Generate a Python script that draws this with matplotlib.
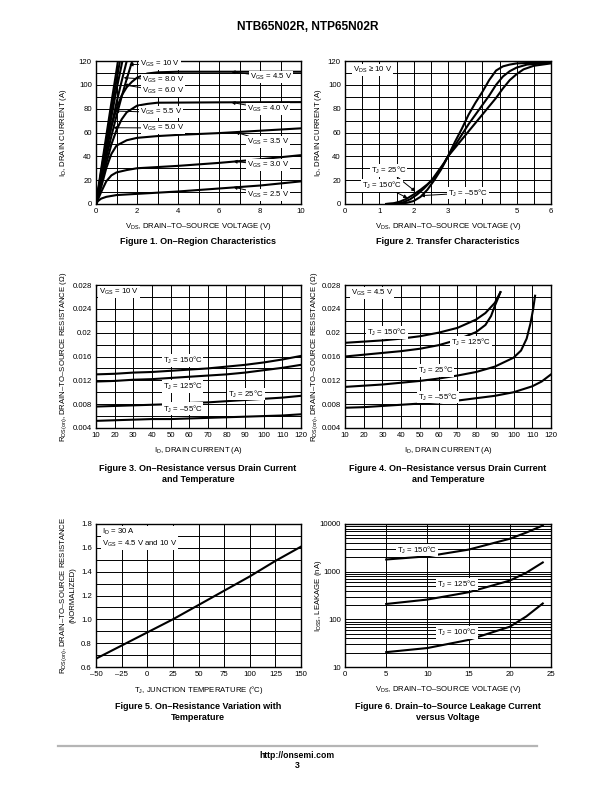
import numpy as np
import matplotlib
matplotlib.use('Agg')
import matplotlib.pyplot as plt
from matplotlib.lines import Line2D

plt.rcParams['font.family'] = ['Liberation Sans', 'DejaVu Sans']
plt.rcParams['mathtext.fontset'] = 'custom'
plt.rcParams['mathtext.rm'] = 'Liberation Sans'
plt.rcParams['mathtext.it'] = 'Liberation Sans:italic'
plt.rcParams['mathtext.default'] = 'regular'

# ---------------- data ----------------
# Figure 1: ID vs VDS for several VGS
f1_vgs10_v = [0, 0.25, 0.5, 0.75, 1.0, 1.08]
f1_vgs10_i = [0, 29, 57, 85, 112, 121]
f1_vgs8_v = [0, 0.25, 0.5, 0.75, 1.0, 1.18]
f1_vgs8_i = [0, 27, 53, 79, 104, 121]
f1_vgs6_v = [0, 0.25, 0.5, 0.75, 1.0, 1.3]
f1_vgs6_i = [0, 25, 49, 73, 96, 121]
f1_vgs55_v = [0, 0.25, 0.5, 0.75, 1.0, 1.25, 1.5, 1.55]
f1_vgs55_i = [0, 22, 44, 65, 85, 103, 120, 123]
f1_vgs5_v = [0, 0.25, 0.5, 0.75, 1.0, 1.25, 1.5, 1.75, 1.8]
f1_vgs5_i = [0, 20, 39, 57, 74, 90, 105, 119, 122]
f1_vgs45_v = [0, 0.25, 0.5, 0.75, 1.0, 1.25, 1.5, 1.75, 2.0, 2.5, 3.0, 4, 6, 8, 10]
f1_vgs45_i = [0, 24, 46, 65, 80, 91, 98, 102.5, 106, 109.5, 110.5, 111, 111, 111, 111]
f1_vgs4_v = [0, 0.25, 0.5, 0.75, 1.0, 1.25, 1.5, 2.0, 2.5, 3.0, 6, 10]
f1_vgs4_i = [0, 17, 34, 50, 62, 71, 77, 82.5, 84, 85, 85.3, 85.5]
f1_vgs35_v = [0, 0.25, 0.5, 0.75, 1.0, 1.5, 2.0, 3.0, 4.0, 6.0, 8.0, 10]
f1_vgs35_i = [0, 14, 30, 42, 49, 53.5, 55.5, 57, 58, 59.5, 61.5, 63.5]
f1_vgs3_v = [0, 0.25, 0.5, 0.75, 1.0, 1.5, 2.0, 4.0, 6.0, 8.0, 10]
f1_vgs3_i = [0, 10, 19, 24, 26.5, 28.5, 30, 32, 34.5, 37.5, 41]
f1_vgs25_v = [0, 0.1, 0.25, 0.5, 1.0, 2.0, 4.0, 6.0, 8.0, 10]
f1_vgs25_i = [0, 2.5, 4.5, 6, 7.5, 8.5, 10.5, 13, 15.5, 19]

# Figure 2: transfer characteristics
f2_t150_v = [1.2, 1.4, 1.6, 1.8, 2.0, 2.2, 2.4, 2.6, 2.8, 3.0, 3.2, 3.4, 3.6, 3.8,
             4.0, 4.2, 4.4, 4.6, 4.8, 5.0, 5.2, 5.5, 6.0]
f2_t150_i = [0, 0.5, 2, 4.5, 8, 12, 16.5, 22, 30, 40, 47, 54, 61, 68,
             75, 82, 89, 97, 104, 109, 113, 116, 118]
f2_t25_v = [1.2, 1.5, 1.7, 1.9, 2.1, 2.3, 2.5, 2.7, 2.9, 3.0, 3.2, 3.4, 3.6, 3.8,
            4.0, 4.2, 4.4, 4.6, 4.8, 5.0, 5.3, 6.0]
f2_t25_i = [0, 0.3, 1.5, 4, 8, 13, 19, 27, 35, 40, 49, 58, 67, 75,
            83, 91, 100, 107, 111.5, 114.5, 117, 118.5]
f2_tm55_v = [1.2, 1.6, 1.8, 2.0, 2.2, 2.4, 2.6, 2.8, 3.0, 3.2, 3.4, 3.6, 3.8,
             4.0, 4.2, 4.4, 4.6, 4.8, 5.0, 5.5, 6.0]
f2_tm55_i = [0, 0.3, 1, 2.5, 6, 12, 20, 29, 40, 52, 63, 75, 85,
             94, 104, 112, 115.5, 117, 118, 118.5, 119]

# Figure 3: RDS(on) vs ID, VGS = 10 V
f3_id = [10, 20, 30, 40, 50, 60, 70, 80, 90, 100, 110, 120]
f3_t150 = [0.0130, 0.0131, 0.0133, 0.0134, 0.0136, 0.0138, 0.0140, 0.0143, 0.0146, 0.0150, 0.0155, 0.0161]
f3_t125 = [0.0118, 0.0119, 0.0121, 0.0122, 0.0124, 0.0126, 0.0128, 0.0130, 0.0133, 0.0137, 0.0141, 0.0146]
f3_t25 = [0.0076, 0.0077, 0.0078, 0.0079, 0.0080, 0.0082, 0.0083, 0.0085, 0.0087, 0.0089, 0.0091, 0.0094]
f3_tm55 = [0.0052, 0.0053, 0.0054, 0.0055, 0.0055, 0.0056, 0.0057, 0.0058, 0.0059, 0.0060, 0.0061, 0.0063]

# Figure 4: RDS(on) vs ID, VGS = 4.5 V
f4_t150_id = [10, 20, 30, 40, 50, 60, 70, 80, 85, 90, 93]
f4_t150 = [0.0183, 0.0185, 0.0187, 0.0190, 0.0194, 0.0200, 0.0208, 0.0222, 0.0233, 0.0250, 0.0268]
f4_t125_id = [10, 20, 30, 40, 50, 60, 70, 80, 85, 88, 90, 92, 93]
f4_t125 = [0.0160, 0.0163, 0.0166, 0.0169, 0.0173, 0.0179, 0.0188, 0.0201, 0.0213, 0.0228, 0.0245, 0.0260, 0.0268]
f4_t25_id = [10, 20, 30, 40, 50, 60, 70, 80, 90, 100, 104, 107, 109, 110.5, 111.5]
f4_t25 = [0.0109, 0.0111, 0.0113, 0.0116, 0.0119, 0.0123, 0.0128, 0.0134, 0.0143, 0.0158, 0.0170,
          0.0190, 0.0215, 0.0240, 0.0262]
f4_tm55_id = [10, 20, 30, 40, 50, 60, 70, 80, 90, 100, 110, 115, 120]
f4_tm55 = [0.0074, 0.0075, 0.0077, 0.0079, 0.0081, 0.0083, 0.0086, 0.0090, 0.0094, 0.0100, 0.0110, 0.0118, 0.0130]

# Figure 5: normalized RDS(on) vs TJ
f5_tj = [-50, -25, 0, 25, 50, 75, 100, 125, 150]
f5_rn = [0.67, 0.78, 0.89, 1.0, 1.12, 1.24, 1.36, 1.49, 1.61]

# Figure 6: IDSS vs VDS
f6_vds = [5, 10, 15, 20, 22, 24]
f6_t150 = [1800, 2100, 2900, 4900, 6600, 9300]
f6_t125 = [210, 260, 370, 650, 950, 1560]
f6_t100 = [20.5, 25, 37, 70, 115, 215]

# tick labels
f1_xticks = [0, 2, 4, 6, 8, 10]
f1_yticks = [0, 20, 40, 60, 80, 100, 120]
f2_xticks = [0, 1, 2, 3, 5, 6]
f2_yticks = [0, 20, 40, 60, 80, 100, 120]
f34_xticks = [10, 20, 30, 40, 50, 60, 70, 80, 90, 100, 110, 120]
f34_yticks = [0.004, 0.008, 0.012, 0.016, 0.02, 0.024, 0.028]
f34_ylabels = ['0.004', '0.008', '0.012', '0.016', '0.02', '0.024', '0.028']
f5_xticks = [-50, -25, 0, 25, 50, 75, 100, 125, 150]
f5_xlabels = ['\u201350', '\u201325', '0', '25', '50', '75', '100', '125', '150']
f5_yticks = [0.6, 0.8, 1.0, 1.2, 1.4, 1.6, 1.8]
f5_ylabels = ['0.6', '0.8', '1.0', '1.2', '1.4', '1.6', '1.8']
f6_xticks = [0, 5, 10, 15, 20, 25]
f6_yticks = [10, 100, 1000, 10000]

W, H = 612, 792
fig = plt.figure(figsize=(W / 100, H / 100), dpi=100)
fs = 5.6
lw_data = 1.5


def px_axes(x0, y0, x1, y1):
    return fig.add_axes([x0 / W, 1 - y1 / H, (x1 - x0) / W, (y1 - y0) / H])


def style(ax, xgrid, ygrid, xt, yt, xl=None, yl=None, log=False):
    ax.set_xticks(xgrid, minor=True)
    if not log:
        ax.set_yticks(ygrid, minor=True)
    ax.set_xticks(xt)
    ax.set_yticks(yt)
    if xl is not None:
        ax.set_xticklabels(xl)
    else:
        ax.set_xticklabels([('%g' % v) for v in xt])
    if yl is not None:
        ax.set_yticklabels(yl)
    elif not log:
        ax.set_yticklabels([('%g' % v) for v in yt])
    ax.grid(True, which='both', color='black', lw=0.7)
    ax.tick_params(which='both', length=0, labelsize=fs, pad=3)
    for s in ax.spines.values():
        s.set_linewidth(1.0)
    ax.set_axisbelow(True)


def label(ax, x, y, txt, xy=None, ha='left', va='center'):
    box = dict(fc='white', ec='none', pad=0.6)
    if xy is None:
        ax.text(x, y, txt, fontsize=fs, ha=ha, va=va, bbox=box, zorder=5)
    else:
        ax.annotate(txt, xy=xy, xytext=(x, y), fontsize=fs, ha=ha, va=va, bbox=box, zorder=5,
                    arrowprops=dict(arrowstyle='-|>', color='black', lw=0.7,
                                    mutation_scale=5, shrinkA=0, shrinkB=0))


def caption(xc, y, txt):
    fig.text(xc / W, 1 - y / H, txt, fontsize=6.5, fontweight='bold', ha='center', va='center',
             linespacing=1.15)


fig.text(308 / W, 1 - 27 / H, 'NTB65N02R, NTP65N02R', fontsize=8.6, fontweight='bold',
         ha='center', va='center')

# ---------------- Figure 1 ----------------
ax1 = px_axes(96, 61, 301, 204)
for v, i in [(f1_vgs10_v, f1_vgs10_i), (f1_vgs8_v, f1_vgs8_i), (f1_vgs6_v, f1_vgs6_i),
             (f1_vgs55_v, f1_vgs55_i), (f1_vgs5_v, f1_vgs5_i), (f1_vgs45_v, f1_vgs45_i),
             (f1_vgs4_v, f1_vgs4_i), (f1_vgs35_v, f1_vgs35_i), (f1_vgs3_v, f1_vgs3_i),
             (f1_vgs25_v, f1_vgs25_i)]:
    ax1.plot(v, i, color='black', lw=lw_data, solid_capstyle='butt')
ax1.set_xlim(0, 10)
ax1.set_ylim(0, 120)
style(ax1, np.arange(0, 11, 1), np.arange(0, 121, 10), f1_xticks, f1_yticks)
label(ax1, 2.15, 117.5, 'V$_{GS}$ = 10 V', xy=(1.62, 117))
label(ax1, 2.24, 103.8, 'V$_{GS}$ = 8.0 V', xy=(1.35, 106))
label(ax1, 2.24, 94.6, 'V$_{GS}$ = 6.0 V', xy=(1.35, 100))
label(ax1, 2.15, 76.9, 'V$_{GS}$ = 5.5 V', xy=(0.92, 78))
label(ax1, 2.24, 63.8, 'V$_{GS}$ = 5.0 V', xy=(0.85, 64))
label(ax1, 7.5, 106.6, 'V$_{GS}$ = 4.5 V', xy=(6.6, 111))
label(ax1, 7.37, 79.7, 'V$_{GS}$ = 4.0 V', xy=(6.6, 85.3))
label(ax1, 7.37, 52, 'V$_{GS}$ = 3.5 V', xy=(6.8, 60.3))
label(ax1, 7.37, 32.7, 'V$_{GS}$ = 3.0 V', xy=(6.7, 35.8))
label(ax1, 7.37, 7.5, 'V$_{GS}$ = 2.5 V', xy=(6.7, 14.2))
ax1.set_ylabel('I$_D$, DRAIN CURRENT (A)', fontsize=fs)
ax1.yaxis.set_label_coords(-0.13, 0.5)
ax1.set_xlabel('V$_{DS}$, DRAIN\u2013TO\u2013SOURCE VOLTAGE (V)', fontsize=fs, labelpad=4)
caption(198, 241, 'Figure 1. On\u2013Region Characteristics')

# ---------------- Figure 2 ----------------
ax2 = px_axes(345, 61, 551, 204)
ax2.plot(f2_t150_v, f2_t150_i, color='black', lw=lw_data)
ax2.plot(f2_t25_v, f2_t25_i, color='black', lw=lw_data)
ax2.plot(f2_tm55_v, f2_tm55_i, color='black', lw=lw_data)
ax2.set_xlim(0, 6)
ax2.set_ylim(0, 120)
style(ax2, np.arange(0, 6.01, 0.5), np.arange(0, 121, 10), f2_xticks, f2_yticks)
label(ax2, 0.23, 112.5, 'V$_{DS}$ \u2265 10 V')
label(ax2, 0.76, 28.3, 'T$_J$ = 25\u00b0C', xy=(2.05, 10.5))
label(ax2, 0.5, 15.8, 'T$_J$ = 150\u00b0C', xy=(1.82, 5))
label(ax2, 3.0, 9.2, 'T$_J$ = \u201355\u00b0C', xy=(2.2, 7))
ax2.set_ylabel('I$_D$, DRAIN CURRENT (A)', fontsize=fs)
ax2.yaxis.set_label_coords(-0.10, 0.5)
ax2.set_xlabel('V$_{DS}$, DRAIN\u2013TO\u2013SOURCE VOLTAGE (V)', fontsize=fs, labelpad=4)
caption(448, 241, 'Figure 2. Transfer Characteristics')

# ---------------- Figure 3 ----------------
ax3 = px_axes(96, 285, 301, 428)
for r in [f3_t150, f3_t125, f3_t25, f3_tm55]:
    ax3.plot(f3_id, r, color='black', lw=lw_data)
ax3.set_xlim(10, 120)
ax3.set_ylim(0.004, 0.028)
style(ax3, np.arange(10, 121, 10), np.arange(0.004, 0.0281, 0.002), f34_xticks, f34_yticks,
      yl=f34_ylabels)
label(ax3, 11.8, 0.0268, 'V$_{GS}$ = 10 V')
label(ax3, 45.8, 0.0154, 'T$_J$ = 150\u00b0C')
label(ax3, 45.8, 0.0109, 'T$_J$ = 125\u00b0C')
label(ax3, 81, 0.0097, 'T$_J$ = 25\u00b0C')
label(ax3, 45.8, 0.0072, 'T$_J$ = \u201355\u00b0C')
ax3.set_ylabel('R$_{DS(on)}$, DRAIN\u2013TO\u2013SOURCE RESISTANCE (\u03a9)', fontsize=fs)
ax3.yaxis.set_label_coords(-0.13, 0.5)
ax3.set_xlabel('I$_D$, DRAIN CURRENT (A)', fontsize=fs, labelpad=4)
caption(198, 474, 'Figure 3. On\u2013Resistance versus Drain Current\nand Temperature')

# ---------------- Figure 4 ----------------
ax4 = px_axes(345, 285, 551, 428)
ax4.plot(f4_t150_id, f4_t150, color='black', lw=lw_data)
ax4.plot(f4_t125_id, f4_t125, color='black', lw=lw_data)
ax4.plot(f4_t25_id, f4_t25, color='black', lw=lw_data)
ax4.plot(f4_tm55_id, f4_tm55, color='black', lw=lw_data)
ax4.set_xlim(10, 120)
ax4.set_ylim(0.004, 0.028)
style(ax4, np.arange(10, 121, 10), np.arange(0.004, 0.0281, 0.002), f34_xticks, f34_yticks,
      yl=f34_ylabels)
label(ax4, 13, 0.0266, 'V$_{GS}$ = 4.5 V')
label(ax4, 21.7, 0.0201, 'T$_J$ = 150\u00b0C')
label(ax4, 66.6, 0.0183, 'T$_J$ = 125\u00b0C')
label(ax4, 49, 0.0137, 'T$_J$ = 25\u00b0C')
label(ax4, 49, 0.0092, 'T$_J$ = \u201355\u00b0C')
ax4.set_ylabel('R$_{DS(on)}$, DRAIN\u2013TO\u2013SOURCE RESISTANCE (\u03a9)', fontsize=fs)
ax4.yaxis.set_label_coords(-0.12, 0.5)
ax4.set_xlabel('I$_D$, DRAIN CURRENT (A)', fontsize=fs, labelpad=4)
caption(448, 474, 'Figure 4. On\u2013Resistance versus Drain Current\nand Temperature')

# ---------------- Figure 5 ----------------
ax5 = px_axes(96, 524, 301, 667)
ax5.plot(f5_tj, f5_rn, color='black', lw=lw_data)
ax5.set_xlim(-50, 150)
ax5.set_ylim(0.6, 1.8)
style(ax5, np.arange(-50, 151, 25), np.arange(0.6, 1.81, 0.1), f5_xticks, f5_yticks,
      xl=f5_xlabels, yl=f5_ylabels)
label(ax5, -44, 1.775, 'I$_D$ = 30 A\nV$_{GS}$ = 4.5 V and 10 V', va='top')
ax5.set_ylabel('R$_{DS(on)}$, DRAIN\u2013TO\u2013SOURCE RESISTANCE\n(NORMALIZED)', fontsize=fs,
               linespacing=1.2)
ax5.yaxis.set_label_coords(-0.095, 0.5)
ax5.set_xlabel('T$_J$, JUNCTION TEMPERATURE (\u00b0C)', fontsize=fs, labelpad=4)
caption(198, 712, 'Figure 5. On\u2013Resistance Variation with\nTemperature')

# ---------------- Figure 6 ----------------
ax6 = px_axes(345, 524, 551, 667)
ax6.plot(f6_vds, f6_t150, color='black', lw=lw_data)
ax6.plot(f6_vds, f6_t125, color='black', lw=lw_data)
ax6.plot(f6_vds, f6_t100, color='black', lw=lw_data)
ax6.set_yscale('log')
ax6.set_xlim(0, 25)
ax6.set_ylim(10, 10000)
style(ax6, np.arange(0, 26, 5), None, f6_xticks, f6_yticks, log=True)
ax6.set_yticklabels([str(v) for v in f6_yticks])
ax6.yaxis.set_minor_formatter(matplotlib.ticker.NullFormatter())
label(ax6, 6.3, 2850, 'T$_J$ = 150\u00b0C')
label(ax6, 11.2, 550, 'T$_J$ = 125\u00b0C')
label(ax6, 11.2, 54, 'T$_J$ = 100\u00b0C')
ax6.set_ylabel('I$_{DSS}$, LEAKAGE (nA)', fontsize=fs)
ax6.yaxis.set_label_coords(-0.10, 0.5)
ax6.set_xlabel('V$_{DS}$, DRAIN\u2013TO\u2013SOURCE VOLTAGE (V)', fontsize=fs, labelpad=4)
caption(448, 712, 'Figure 6. Drain\u2013to\u2013Source Leakage Current\nversus Voltage')

# footer
fig.add_artist(Line2D([58 / W, 537 / W], [1 - 746 / H] * 2, color='#b5b5b5', lw=1.6))
fig.text(297 / W, 1 - 756 / H, 'http://onsemi.com', fontsize=6.2, fontweight='bold',
         ha='center', va='center')
fig.text(297 / W, 1 - 766 / H, '3', fontsize=6.2, fontweight='bold', ha='center', va='center')

fig.savefig('out.png', dpi=100)
